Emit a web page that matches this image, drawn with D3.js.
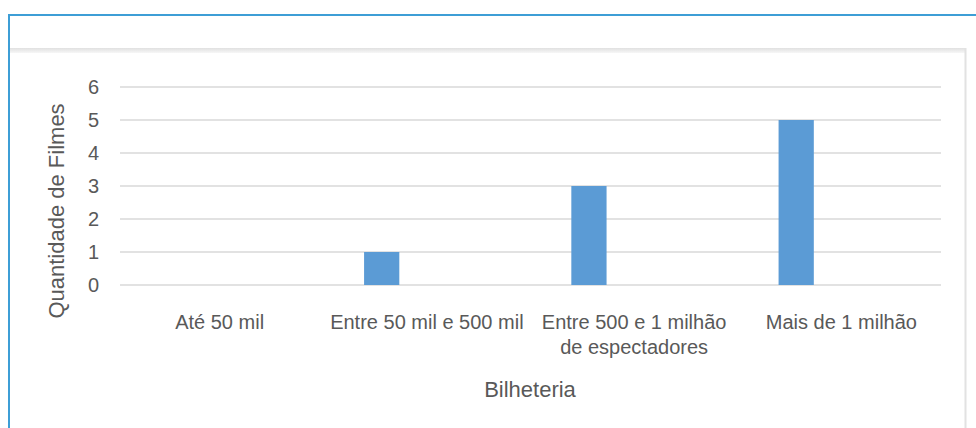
<!DOCTYPE html>
<html>
<head>
<meta charset="utf-8">
<script src="https://cdn.jsdelivr.net/npm/d3@7"></script>
<style>
    body { margin: 0; background: #fff; }
    svg text { font-family: "Liberation Sans", Arial, sans-serif; fill: #595959; }
</style>
</head>
<body>
<div id="chart"></div>
<script>
// chart data
var categories = ["Até 50 mil", "Entre 50 mil e 500 mil", "Entre 500 e 1 milhão de espectadores", "Mais de 1 milhão"];
var labelLines = [["Até 50 mil"], ["Entre 50 mil e 500 mil"], ["Entre 500 e 1 milhão", "de espectadores"], ["Mais de 1 milhão"]];
var filmes = [0, 1, 3, 5];
var yTicks = [0, 1, 2, 3, 4, 5, 6];
var xTitle = "Bilheteria";
var yTitle = "Quantidade de Filmes";

var width = 976,
    height = 428;

var svg = d3.select('#chart')
    .append('svg')
    .attr('width', width)
    .attr('height', height);

// outer frame (blue) and the inner panel edges
svg.append('path')
    .attr('d', 'M' + width + ',15H9V' + height)
    .style('fill', 'none')
    .style('stroke', '#3d9ed6')
    .style('stroke-width', 2);

var grad = svg.append('defs').append('linearGradient')
    .attr('id', 'shade')
    .attr('x1', 0).attr('y1', 0).attr('x2', 0).attr('y2', 1);
grad.append('stop').attr('offset', '0%').attr('stop-color', '#e0e0e0');
grad.append('stop').attr('offset', '100%').attr('stop-color', '#f7f7f7');

svg.append('rect')
    .attr('x', 10).attr('y', 48)
    .attr('width', 956).attr('height', 5)
    .style('fill', 'url(#shade)');
svg.append('line')
    .attr('x1', 965.5).attr('x2', 965.5)
    .attr('y1', 48).attr('y2', height)
    .style('stroke', '#e2e2e2')
    .style('stroke-width', 2);

// scales
var x = d3.scaleBand()
    .domain(categories)
    .range([116, 945])
    .padding(0);

var y = d3.scaleLinear()
    .domain([0, 6])
    .range([285, 87]);

var gridX0 = 120,
    gridX1 = 941,
    barOffset = 0.197,
    barFrac = 0.17;

// gridlines
svg.append('g').selectAll('line')
    .data(yTicks)
    .enter().append('line')
    .attr('x1', gridX0)
    .attr('x2', gridX1)
    .attr('y1', function (d) { return y(d); })
    .attr('y2', function (d) { return y(d); })
    .style('stroke', '#d9d9d9')
    .style('stroke-width', 1.5);

// y tick labels
svg.append('g').selectAll('text')
    .data(yTicks)
    .enter().append('text')
    .attr('x', 99)
    .attr('y', function (d) { return y(d); })
    .attr('dy', '0.36em')
    .attr('text-anchor', 'end')
    .style('font-size', '20px')
    .text(function (d) { return d; });

// bars
svg.append('g').selectAll('rect')
    .data(filmes)
    .enter().append('rect')
    .attr('x', function (d, i) { return x(categories[i]) + x.bandwidth() * barOffset; })
    .attr('width', x.bandwidth() * barFrac)
    .attr('y', function (d) { return y(d); })
    .attr('height', function (d) { return y(0) - y(d); })
    .style('fill', '#5b9bd5');

// category labels
var lab = svg.append('g').selectAll('text')
    .data(categories)
    .enter().append('text')
    .attr('text-anchor', 'middle')
    .attr('x', function (d) { return x(d) + x.bandwidth() / 2; })
    .attr('y', 329)
    .style('font-size', '20px');
lab.selectAll('tspan')
    .data(function (d, i) { return labelLines[i]; })
    .enter().append('tspan')
    .attr('x', function () { return d3.select(this.parentNode).attr('x'); })
    .attr('dy', function (d, i) { return i === 0 ? 0 : 25; })
    .text(function (d) { return d; });

// axis titles
svg.append('text')
    .attr('x', 530)
    .attr('y', 397)
    .attr('text-anchor', 'middle')
    .style('font-size', '22px')
    .text(xTitle);

svg.append('text')
    .attr('transform', 'translate(56,211) rotate(-90)')
    .attr('dy', '0.36em')
    .attr('text-anchor', 'middle')
    .style('font-size', '22px')
    .text(yTitle);
</script>
</body>
</html>
